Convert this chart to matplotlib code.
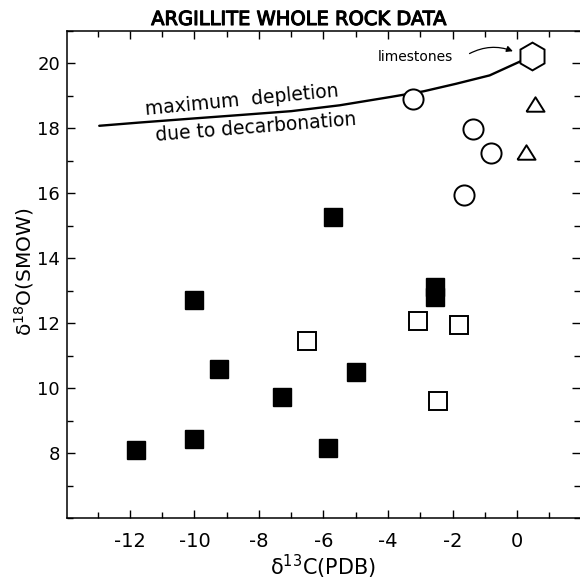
import matplotlib
matplotlib.use("Agg")
import matplotlib.pyplot as plt
import matplotlib.patheffects as pe
from matplotlib.ticker import MultipleLocator, FixedLocator

plt.rcParams['font.family'] = ['DejaVu Sans']

# ---- data ----
filled_sq_x = [-11.8, -10.0, -10.0, -9.25, -7.3, -5.85, -5.7, -5.0, -2.55, -2.55]
filled_sq_y = [8.1, 8.45, 12.7, 10.58, 9.74, 8.15, 15.27, 10.5, 13.1, 12.82]
open_sq_x = [-6.52, -3.08, -1.8, -2.45]
open_sq_y = [11.46, 12.07, 11.94, 9.6]
circle_x = [-3.22, -1.38, -0.8, -1.65]
circle_y = [18.89, 17.97, 17.22, 15.93]
tri_x = [0.57, 0.29]
tri_y = [18.75, 17.26]
hex_x = [0.46]
hex_y = [20.23]
curve_x = [-12.95, -11.7, -10.1, -8.6, -7.0, -5.5, -3.9, -2.9, -1.9, -0.85, 0.1]
curve_y = [18.07, 18.17, 18.29, 18.40, 18.52, 18.70, 18.96, 19.13, 19.36, 19.62, 20.05]

x_tick_vals = [-12, -10, -8, -6, -4, -2, 0]
x_tick_labels = ['-12', '-10', '-8', '-6', '-4', '-2', '0']
y_tick_vals = [8, 10, 12, 14, 16, 18, 20]
y_tick_labels = ['8', '10', '12', '14', '16', '18', '20']

title = 'ARGILLITE WHOLE ROCK DATA'
xlabel = 'δ$^{13}$C(PDB)'
ylabel = 'δ$^{18}$O(SMOW)'

# ---- figure ----
fig = plt.figure(figsize=(5.8, 5.8), dpi=100)
ax = fig.add_axes([0.1155, 0.1064, 0.8845, 0.841])
ax.set_xlim(-13.95, 1.95)
ax.set_ylim(6, 21)

ax.plot(curve_x, curve_y, color='black', lw=1.7, solid_capstyle='round', zorder=2)

ax.plot(filled_sq_x, filled_sq_y, ls='none', marker='s', ms=13.5,
        mfc='black', mec='black', mew=1.0, zorder=3)
ax.plot(open_sq_x, open_sq_y, ls='none', marker='s', ms=13.5,
        mfc='white', mec='black', mew=1.4, zorder=3)
ax.plot(circle_x, circle_y, ls='none', marker='o', ms=14.5,
        mfc='white', mec='black', mew=1.4, zorder=3)
tri_marker = [(-1, -0.8), (1, -0.8), (0, 0.8), (-1, -0.8)]
ax.plot(tri_x, tri_y, ls='none', marker=tri_marker, ms=13,
        mfc='white', mec='black', mew=1.4, zorder=3)
ax.plot(hex_x, hex_y, ls='none', marker='h', ms=20,
        mfc='white', mec='black', mew=1.4, zorder=3)

# ticks
ax.xaxis.set_major_locator(FixedLocator(x_tick_vals))
ax.set_xticklabels(x_tick_labels)
ax.xaxis.set_minor_locator(MultipleLocator(1))
ax.yaxis.set_major_locator(FixedLocator(y_tick_vals))
ax.set_yticklabels(y_tick_labels)
ax.yaxis.set_minor_locator(MultipleLocator(1))
ax.tick_params(which='both', direction='in', top=True, right=True,
               width=1.0, colors='black')
ax.tick_params(which='major', length=6)
ax.tick_params(which='minor', length=4)
ax.tick_params(axis='x', which='major', labelsize=14, pad=10)
ax.tick_params(axis='y', which='major', labelsize=13, pad=5)
for s in ['left', 'bottom', 'top']:
    ax.spines[s].set_linewidth(1.1)
ax.spines['right'].set_visible(False)

# labels
fig.text(299 / 580, 1 - 25 / 580, title, ha='center', va='baseline',
         fontsize=14,
         path_effects=[pe.withStroke(linewidth=0.8, foreground='black')])
fig.text(323 / 580, 1 - 567 / 580, xlabel, ha='center', va='center', fontsize=15)
fig.text(24 / 580, 1 - 272 / 580, ylabel, ha='center', va='center',
         rotation=90, fontsize=14.5)

ax.text(-8.54, 18.87, 'maximum  depletion', ha='center', va='center',
        rotation=5.5, rotation_mode='anchor', fontsize=13.5)
ax.text(-8.10, 18.03, 'due to decarbonation', ha='center', va='center',
        rotation=4.6, rotation_mode='anchor', fontsize=13.5)

ax.text(-3.14, 20.19, 'limestones', ha='center', va='center', fontsize=10)
ax.annotate('', xy=(-0.05, 20.33), xytext=(-1.55, 20.25),
            arrowprops=dict(arrowstyle='-|>', color='black', lw=0.9,
                            mutation_scale=9,
                            connectionstyle='arc3,rad=-0.25'))

fig.savefig('out.png', dpi=100)
